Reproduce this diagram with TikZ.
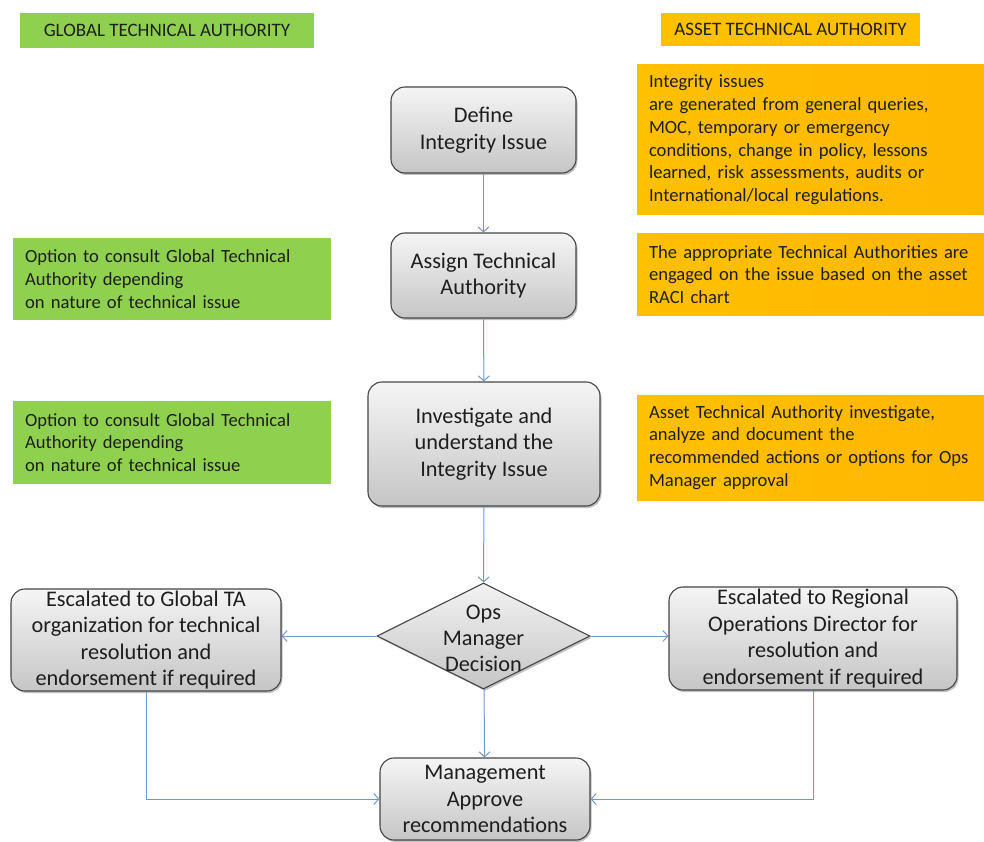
\documentclass[tikz,border=0pt]{standalone}
\usepackage{fontspec}
\setmainfont{Carlito}
\usetikzlibrary{arrows.meta,shapes.geometric,shadows,calc}

\definecolor{tagreen}{HTML}{8FD14F}
\definecolor{taorange}{HTML}{FFC000}
\definecolor{taorangeR}{HTML}{FFB700}
\definecolor{flowblue}{HTML}{7398CB}
\definecolor{boxedge}{HTML}{454545}
\definecolor{ink}{HTML}{1E1E1E}

\tikzset{
  header/.style={inner sep=0pt, text=ink, font=\fontsize{19}{22}\selectfont},
  greenhead/.style={header, fill=tagreen},
  orangehead/.style={header, fill=taorange},
  notebox/.style={inner xsep=12pt, inner ysep=0pt, align=left, text=ink,
    font=\fontsize{18.6}{22.8}\selectfont, minimum width=347pt},
  greennote/.style={notebox, fill=tagreen, text width=294pt, minimum width=316pt},
  orangenote/.style={notebox, left color=taorange, right color=taorangeR,
    text width=323pt},
  stepbox/.style={draw=boxedge, line width=1.1pt, rounded corners=14pt,
    top color=gray!8, bottom color=gray!45, inner sep=0pt, align=center,
    text=ink, font=\fontsize{22.3}{26.5}\selectfont,
    drop shadow={shadow xshift=1.5pt, shadow yshift=-2pt, opacity=.35, fill=black!70}},
  decision/.style={draw=boxedge, line width=1.1pt, diamond, inner sep=0pt,
    top color=gray!10, bottom color=gray!45,
    drop shadow={shadow xshift=1.5pt, shadow yshift=-2pt, opacity=.35, fill=black!70}},
  flow/.style={draw=flowblue, line width=1pt,
    -{Straight Barb[length=5pt,width=11pt,line width=1pt]}},
}

\begin{document}
\begin{tikzpicture}[x=1pt, y=-1pt]
\useasboundingbox (0,0) rectangle (984,842);

% column headers
\node[greenhead, minimum width=294pt, minimum height=35pt] (gh) at (167,30.5) {GLOBAL TECHNICAL AUTHORITY};
\node[orangehead, minimum width=259pt, minimum height=33pt] (oh) at (790.5,29.5) {ASSET TECHNICAL AUTHORITY};

% asset technical authority notes
\node[orangenote, minimum height=150pt] (on1) at (810.5,140) {Integrity issues\\
are generated from general queries,\\
MOC, temporary or emergency\\
conditions, change in policy, lessons\\
learned, risk assessments, audits or\\
International/local regulations.};
\node[orangenote, minimum height=81pt] (on2) at (810.5,274.5) {The appropriate Technical Authorities are\\
engaged on the issue based on the asset\\
RACI chart};
\node[orangenote, minimum height=105pt] (on3) at (810.5,447.5) {Asset Technical Authority investigate,\\
analyze and document the\\
recommended actions or options for Ops\\
Manager approval};

% global technical authority notes
\node[greennote, minimum height=82pt] (gn1) at (172,279) {Option to consult Global Technical\\
Authority depending\\
on nature of technical issue};
\node[greennote, minimum height=83pt] (gn2) at (172,442.5) {Option to consult Global Technical\\
Authority depending\\
on nature of technical issue};

% process steps
\node[stepbox, minimum width=185pt, minimum height=86pt] (define) at (483.5,130) {Define\\Integrity Issue};
\node[stepbox, minimum width=185pt, minimum height=85pt] (assign) at (483.5,275.5) {Assign Technical\\Authority};
\node[stepbox, minimum width=232pt, minimum height=124pt] (invest) at (484,444) {Investigate and\\understand the\\Integrity Issue};
\node[decision, minimum width=213pt, minimum height=106pt] (dec) at (483.5,636) {};
\node[align=center, text=ink, font=\fontsize{22.3}{26}\selectfont, inner sep=0pt] (dectext) at (483.5,638) {Ops\\Manager\\Decision};
\node[stepbox, minimum width=270pt, minimum height=102pt] (left) at (146,640) {Escalated to Global TA\\organization for technical\\resolution and\\endorsement if required};
\node[stepbox, minimum width=288pt, minimum height=103pt] (right) at (813,638.5) {Escalated to Regional\\Operations Director for\\resolution and\\endorsement if required};
\node[stepbox, minimum width=210pt, minimum height=82pt] (approve) at (485,799) {Management\\Approve\\recommendations};

% connectors
\draw[flow] (define) -- (assign);
\draw[flow] (assign) -- (invest);
\draw[flow] (invest) -- (dec);
\draw[flow] (dec.west) -- (dec.west -| left.east);
\draw[flow] (dec.east) -- (dec.east -| right.west);
\draw[flow] (dec) -- (approve);
\draw[flow] (left.south) |- (approve.west);
\draw[flow] (right.south) |- (approve.east);
\end{tikzpicture}
\end{document}
